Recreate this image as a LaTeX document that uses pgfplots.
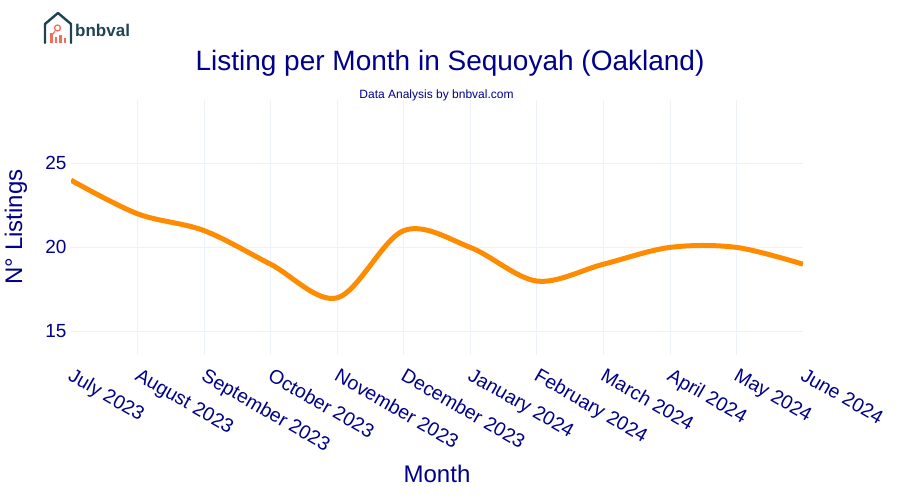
\documentclass[border=0pt]{standalone}
\usepackage{fontspec}
\setmainfont{Liberation Sans}
\usepackage{pgfplots}
\pgfplotsset{compat=1.18}
\definecolor{navy}{HTML}{00008B}
\definecolor{gridc}{HTML}{EDF1F8}
\definecolor{lineo}{HTML}{FF8C00}
\definecolor{logod}{HTML}{1F4352}
\definecolor{logor}{HTML}{F0705A}
\begin{document}
\begin{tikzpicture}[x=1pt,y=1pt]
\path[use as bounding box] (0,0) rectangle (900,500);
\begin{axis}[
  at={(71pt,145pt)}, anchor=south west,
  scale only axis, width=732pt, height=255pt,
  xmin=0, xmax=11, ymin=13.6, ymax=28.77,
  axis line style={draw=none},
  tick style={draw=none},
  grid=major, grid style={gridc, line width=0.8pt},
  xtick={1,...,10},
  xticklabels={August 2023,September 2023,October 2023,November 2023,December 2023,January 2024,February 2024,March 2024,April 2024,May 2024},
  extra x ticks={0,11},
  extra x tick labels={July 2023,June 2024},
  extra x tick style={grid=none},
  ytick={15,20,25},
  /pgf/number format/assume math mode=true,
  xticklabel style={rotate=-30, anchor=north west, font=\fontsize{19.5}{21}\selectfont, text=navy, xshift=5.5pt, yshift=-5.5pt},
  yticklabel style={font=\fontsize{19}{21}\selectfont, text=navy, xshift=-1pt},
]
\addplot[lineo, line width=5pt, smooth, tension=0.55] coordinates {
(0,24)(1,22)(2,21)(3,19)(4,17)(5,21)(6,20)(7,18)(8,19)(9,20)(10,20)(11,19)};
\end{axis}
\node[text=navy, font=\fontsize{28}{30}\selectfont] at (450,437) {Listing per Month in Sequoyah (Oakland)};
\node[text=navy, font=\fontsize{12}{14}\selectfont] at (436.5,404.5) {Data Analysis by bnbval.com};
\node[text=navy, font=\fontsize{24}{26}\selectfont] at (437,26) {Month};
\node[text=navy, font=\fontsize{24}{26}\selectfont, rotate=90] at (16,273) {N° Listings};
% logo
\draw[logod, line width=2.4pt, line join=round, line cap=round] (45,457) -- (45,476) -- (58,487) -- (71,476) -- (71,457);
\draw[logor, line width=1.3pt] (57.5,472) circle (3pt);
\draw[logor, line width=1.2pt] (55,469) -- (53,466);
\fill[logor] (50,457) rectangle (52.5,467);
\fill[logor] (54.5,457) rectangle (57,463);
\fill[logor] (59,457) rectangle (61.5,465);
\fill[logor] (63.5,457) rectangle (66,462);
\node[anchor=west, text=logod, font=\fontsize{17}{19}\selectfont\bfseries, inner sep=0pt] at (75,469.5) {bnbval};
\end{tikzpicture}
\end{document}
